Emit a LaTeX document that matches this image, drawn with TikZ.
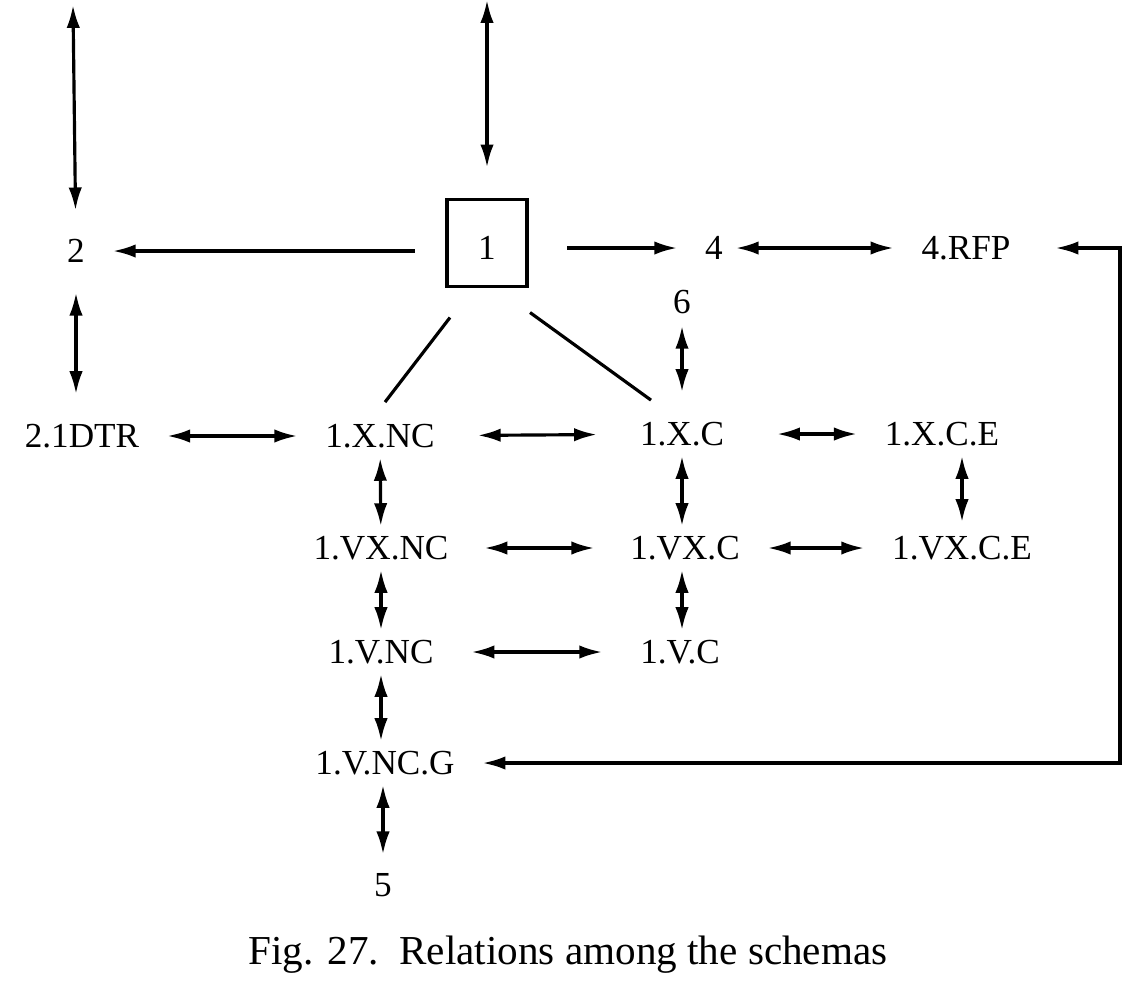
\documentclass[tikz,border=0pt]{standalone}
\usepackage{fontspec}
\setmainfont{Liberation Serif}
\usepackage{tikz}
\usetikzlibrary{arrows.meta}

\begin{document}
\begin{tikzpicture}[x=0.01cm, y=-0.01cm,
    lbl/.style={font=\fontsize{10}{12}\selectfont, inner sep=0pt, outer xsep=0.28cm, outer ysep=0.1cm},
    schema/.style={draw, line width=1pt, minimum width=0.8cm, minimum height=0.87cm, inner sep=0pt, outer sep=0pt, font=\fontsize{10}{12}\selectfont},
    link/.style={<->, line width=0.9pt},
    feed/.style={->, line width=0.9pt},
    >={Latex[length=6.5pt,width=3.8pt]}]
            % Fix the page size
            \useasboundingbox (0,0) rectangle (1140,984);

            % The central schema and its neighbours
            \node[schema, text depth=0cm, text height=0.33cm] (s1) at (487,243) {1};
            \node[lbl] (s2) at (76,251) {2};
            \node[lbl] (s4) at (714,248) {4};
            \node[lbl] (rfp) at (966,248) {4.RFP};
            \node[lbl] (s6) at (682,302) {6};

            % Free ends of the two top arrows
            \coordinate (top2) at (73,5);
            \coordinate (top1) at (487,0);

            % Row of the X schemas
            \node[lbl] (dtr) at (82,436) {2.1DTR};
            \node[lbl] (xnc) at (380,436) {1.X.NC};
            \node[lbl] (xc) at (682,434) {1.X.C};
            \node[lbl] (xce) at (942,434) {1.X.C.E};

            % Row of the VX schemas
            \node[lbl] (vxnc) at (381,548) {1.VX.NC};
            \node[lbl] (vxc) at (685,548) {1.VX.C};
            \node[lbl] (vxce) at (962,548) {1.VX.C.E};

            % Row of the V schemas
            \node[lbl] (vnc) at (381,652) {1.V.NC};
            \node[lbl] (vc) at (680,652) {1.V.C};
            \node[lbl] (vncg) at (385,763) {1.V.NC.G};
            \node[lbl] (s5) at (383,885) {5};

            % Corner of the long return line
            \coordinate (loop) at (1120,763);

            % Arrows round the central schema
            \draw[link, shorten >=0.19cm] (top2) -- (s2);
            \draw[link, shorten >=0.32cm] (top1) -- (s1);
            \draw[feed, shorten <=0.32cm] (s1.west |- s2.east) -- (s2.east);
            \draw[feed, shorten <=0.4cm] (s1.east |- s4.west) -- (s4.west);
            \draw[link, shorten <=-0.15cm] (s4) -- (rfp);
            \draw[link, shorten <=0.17cm] (rfp.east) -| (loop) -- (vncg.east);
            \draw[link, shorten <=0.2cm, shorten >=0.2cm] (s2.south) -- (s2.south |- dtr.north);

            % Plain lines from the box
            \draw[line width=0.9pt] ([shift={(3,31)}]s1.south west) -- ([shift={(5,-12)}]xnc.north);
            \draw[line width=0.9pt] ([shift={(3,26)}]s1.south east) -- ([shift={(-31,-12)}]xc.north);
            \draw[link, shorten <=0.02cm, shorten >=0.2cm] (s6) -- (xc);

            % Horizontal links
            \draw[link] (dtr) -- (xnc);
            \draw[link, shorten <=0.15cm, shorten >=0.15cm] (xnc) -- (xc);
            \draw[link, shorten <=0.25cm] (xc) -- (xce);
            \draw[link, shorten <=0.08cm, shorten >=0.08cm] (vxnc) -- (vxc);
            \draw[link] (vxc) -- (vxce);
            \draw[link, shorten <=0.1cm, shorten >=0.1cm] (vnc) -- (vc);

            % Vertical links
            \draw[link] (xnc) -- (vxnc);
            \draw[link] (xc.south) -- (xc.south |- vxc.north);
            \draw[link, shorten >=0.04cm] (xce.south -| vxce.north) -- (vxce.north);
            \draw[link] (vxnc) -- (vnc);
            \draw[link] (vxc.south -| xc) -- (xc |- vc.north);
            \draw[link] (vnc.south) -- (vnc.south |- vncg.north);
            \draw[link, shorten >=0.09cm] (vncg.south -| s5) -- (s5.north);

            % Caption
            \node[font=\fontsize{11.7}{14}\selectfont] (cap) at (568,955) {Fig. 27.\ \ Relations among the schemas};
\end{tikzpicture}
\end{document}
